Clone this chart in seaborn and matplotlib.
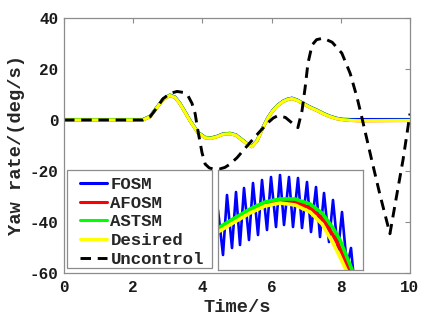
import numpy as np
import pandas as pd
import seaborn as sns
import matplotlib.pyplot as plt
from matplotlib.lines import Line2D
from matplotlib.patches import Rectangle

# main plot data (time in s, yaw rate in deg/s)
t_main = [0, 2.28, 2.49, 2.69, 2.86, 3.06, 3.21, 3.35, 3.5, 3.64, 3.87, 4.08, 4.25, 4.42,
          4.60, 4.80, 4.97, 5.14, 5.29, 5.43, 5.58, 5.75, 5.90, 6.04, 6.18, 6.33, 6.46,
          6.59, 6.75, 6.91, 7.1, 7.31, 7.5, 7.69, 7.88, 8.06, 8.3, 8.55, 10]
desired = [0, 0, 1.3, 4.9, 8.0, 9.6, 8.8, 6.4, 3.0, -0.3, -5.0, -7.0, -7.2, -6.6,
           -5.6, -5.4, -6.0, -7.8, -9.4, -10.5, -8.2, -3.0, 0.9, 3.7, 5.7, 7.2, 8.0,
           8.4, 7.6, 6.4, 5.0, 3.7, 2.4, 1.3, 0.5, 0.1, -0.2, -0.3, -0.2]
fosm = [0.2, 0.2, 1.5, 5.1, 8.2, 9.8, 9.0, 6.6, 3.2, -0.1, -4.8, -6.8, -7.0, -6.4,
        -5.4, -5.2, -5.8, -7.6, -9.2, -10.3, -8.0, -2.8, 1.1, 3.9, 5.9, 7.4, 8.2,
        8.6, 7.8, 6.6, 5.2, 3.9, 2.6, 1.5, 0.7, 0.3, 0.2, 0.2, 0.2]
afosm = [0, 0, 1.3, 4.9, 8.0, 9.6, 8.8, 6.4, 3.0, -0.3, -5.0, -7.0, -7.2, -6.6,
         -5.6, -5.4, -6.0, -7.8, -9.4, -10.5, -8.2, -3.0, 0.9, 3.7, 5.7, 7.2, 8.0,
         8.4, 7.6, 6.4, 5.0, 3.7, 2.4, 1.3, 0.5, 0.1, -0.2, -0.3, -0.2]
astsm = [0.1, 0.1, 1.4, 5.0, 8.1, 9.7, 8.9, 6.5, 3.1, -0.2, -4.9, -6.9, -7.1, -6.5,
         -5.5, -5.3, -5.9, -7.7, -9.3, -10.4, -8.1, -2.9, 1.0, 3.8, 5.8, 7.3, 8.1,
         8.5, 7.7, 6.5, 5.1, 3.8, 2.5, 1.4, 0.6, 0.2, -0.1, -0.2, -0.1]

t_unc = [0, 2.28, 2.49, 2.69, 2.86, 3.06, 3.27, 3.45, 3.58, 3.70, 3.79, 3.87, 3.99, 4.08,
         4.2, 4.31, 4.5, 4.65, 4.8, 5.0, 5.17, 5.4, 5.6, 5.9, 6.05, 6.18, 6.4, 6.62,
         6.76, 6.88, 6.97, 7.05, 7.17, 7.3, 7.49, 7.75, 8.03, 8.27, 8.47, 8.61, 8.9,
         9.13, 9.42, 9.62, 9.8, 10]
uncontrol = [0, 0, 1.3, 4.9, 8.3, 10.4, 11.2, 10.8, 9.6, 6.5, 2.5, -4.2, -12.9, -17.3,
             -18.8, -19.2, -19.2, -18.6, -17.3, -14.8, -12.1, -8.5, -5.4, -1.0, 0.8, 1.7, 1.0, -1.5,
             -3.0, 3.7, 12.8, 22.2, 29.4, 31.5, 32.1, 30.5, 26.2, 18.3, 8.8, 0.9, -16.1,
             -29.2, -44.6, -29.2, -15.5, 2.5]

# inset (zoomed view)
t_in = [6.00, 6.15, 6.32, 6.47, 6.62, 6.77, 6.92, 7.04, 7.15, 7.22]
des_in = [7.88, 7.97, 8.07, 8.14, 8.17, 8.15, 8.08, 7.96, 7.77, 7.63]
afosm_in = [7.90, 7.99, 8.09, 8.16, 8.19, 8.18, 8.12, 8.02, 7.85, 7.72]
astsm_in = [7.92, 8.01, 8.11, 8.18, 8.21, 8.21, 8.16, 8.07, 7.92, 7.80]
t_in_end = [7.29, 7.32, 7.35]
y_in_end = [7.48, 7.48, 7.48]
t_fosm_in = [6.00, 6.05, 6.09, 6.14, 6.18, 6.22, 6.26, 6.31, 6.35, 6.40, 6.44, 6.49,
             6.53, 6.58, 6.62, 6.66, 6.71, 6.75, 6.80, 6.84, 6.89, 6.93, 6.98, 7.02,
             7.06, 7.11, 7.15, 7.20, 7.24, 7.29, 7.33, 7.36]
fosm_in = [8.10, 7.65, 8.25, 7.72, 8.28, 7.75, 8.32, 7.80, 8.37, 7.85, 8.40, 7.90,
           8.43, 7.93, 8.45, 7.95, 8.43, 7.93, 8.42, 7.92, 8.38, 7.88, 8.33, 7.83,
           8.27, 7.78, 8.20, 7.68, 8.08, 7.53, 7.72, 7.40]

sns.set_theme(style='white')
plt.rcParams['font.family'] = ['Liberation Mono', 'DejaVu Sans']
plt.rcParams['font.weight'] = 'bold'
plt.rcParams['axes.unicode_minus'] = False

colors = {'FOSM': '#0000ff', 'AFOSM': '#ff0000', 'ASTSM': '#00ff00', 'Desired': '#ffff00'}
frame = '#8c8c8c'
dash = (0, (3.6, 2.3))

fig = plt.figure(figsize=(4.3, 3.26), dpi=100)
ax = fig.add_axes([64/430, 53/326, 346/430, 255/326])

main = pd.DataFrame({'t': t_main, 'FOSM': fosm, 'AFOSM': afosm, 'ASTSM': astsm, 'Desired': desired})
for name in ['FOSM', 'AFOSM', 'ASTSM', 'Desired']:
  sns.lineplot(data=main, x='t', y=name, ax=ax, color=colors[name], linewidth=2.2,
               sort=False, estimator=None)
sns.lineplot(x=t_unc, y=uncontrol, ax=ax, color='black', linewidth=2.1, linestyle=dash,
             sort=False, estimator=None)

ax.set_xlim(0, 10)
ax.set_ylim(-60, 40)
ax.set_xticks(np.arange(0, 11, 2))
ax.set_yticks(np.arange(-60, 41, 20))
ax.tick_params(direction='in', length=3.5, width=0.8, color=frame, top=True, right=True,
               labelsize=11.5, labelcolor='#1a1a1a', pad=4)
ax.tick_params(axis='x', pad=5)
for s in ax.spines.values():
  s.set_color(frame)
  s.set_linewidth(0.9)
ax.set_xlabel('Time/s', fontsize=13.5, fontweight='bold', color='#262626', labelpad=3)
ax.set_ylabel('Yaw rate/(deg/s)', fontsize=13.5, fontweight='bold', color='#262626', labelpad=3)

# legend box drawn separately so the padding can match
ax.add_patch(Rectangle((3/346, 5/255), 145/346, 98/255, transform=ax.transAxes,
                       facecolor='white', edgecolor=frame, lw=0.9, zorder=4.5))
handles = [Line2D([], [], color=colors[n], lw=2.2) for n in ['FOSM', 'AFOSM', 'ASTSM', 'Desired']]
handles.append(Line2D([], [], color='black', lw=2.1, linestyle=dash))
leg = ax.legend(handles, ['FOSM', 'AFOSM', 'ASTSM', 'Desired', 'Uncontrol'],
                loc='upper left', bbox_to_anchor=(16/346, 96/255), borderaxespad=0,
                prop={'weight': 'bold', 'size': 12.5}, handlelength=1.55,
                handletextpad=0.2, labelspacing=0.2, borderpad=0, frameon=False)
leg.set_zorder(5)

ins = fig.add_axes([218/430, 56/326, 145/430, 100/326])
ins.set_facecolor('white')
sns.lineplot(x=t_fosm_in, y=fosm_in, ax=ins, color=colors['FOSM'], linewidth=1.9,
             sort=False, estimator=None)
sns.lineplot(x=t_in + [t_in_end[1]], y=afosm_in + [y_in_end[1]], ax=ins, color=colors['AFOSM'],
             linewidth=2.6, sort=False, estimator=None)
sns.lineplot(x=t_in + [t_in_end[2]], y=astsm_in + [y_in_end[2]], ax=ins, color=colors['ASTSM'],
             linewidth=2.6, sort=False, estimator=None)
sns.lineplot(x=t_in + [t_in_end[0]], y=des_in + [y_in_end[0]], ax=ins, color=colors['Desired'],
             linewidth=2.6, sort=False, estimator=None)
ins.set_xlim(6.0, 7.45)
ins.set_ylim(7.5, 8.5)
ins.set_xticks([])
ins.set_yticks([])
ins.set_xlabel('')
ins.set_ylabel('')
for s in ins.spines.values():
  s.set_color(frame)
  s.set_linewidth(0.9)

fig.savefig('out.png', dpi=100)
